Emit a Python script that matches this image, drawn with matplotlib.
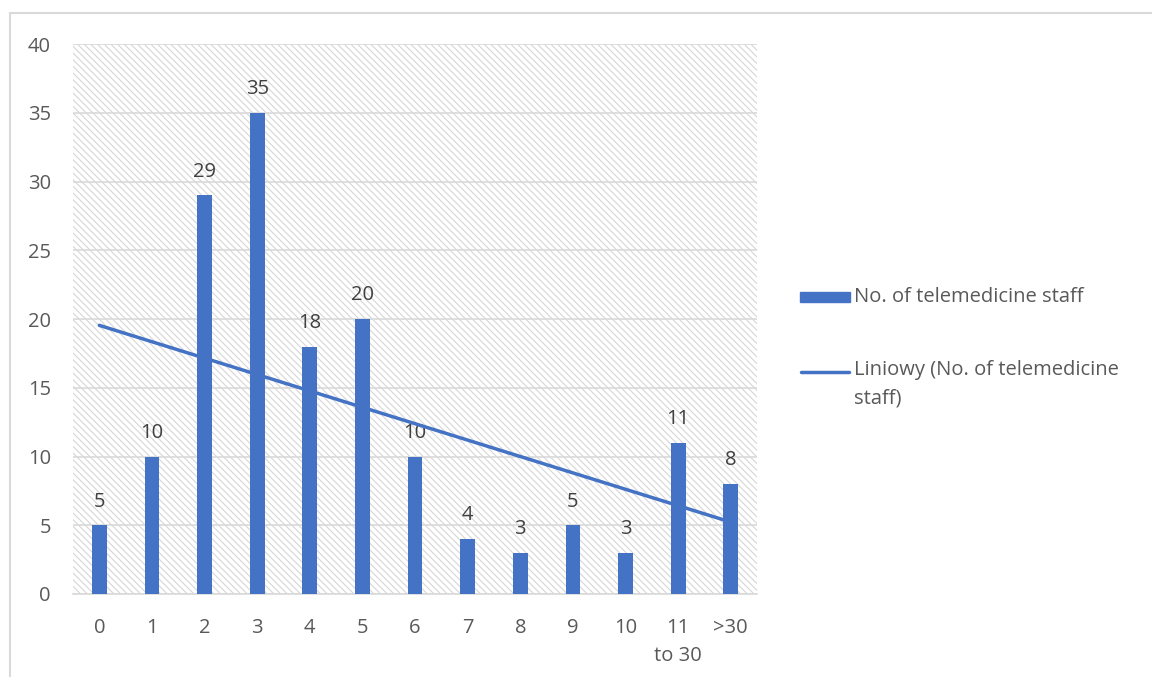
import numpy as np
import matplotlib
matplotlib.use("Agg")
import matplotlib.pyplot as plt
from matplotlib.patches import Rectangle
from matplotlib.lines import Line2D

categories = ["0", "1", "2", "3", "4", "5", "6", "7", "8", "9", "10", "11\nto 30", ">30"]
staff = [5, 10, 29, 35, 18, 20, 10, 4, 3, 5, 3, 11, 8]
legend_labels = ["No. of telemedicine staff", "Liniowy (No. of telemedicine\nstaff)"]

blue = "#4472c4"
grey_txt = "#595959"
grid_col = "#d9d9d9"
fs = 14.5

plt.rcParams["font.family"] = ["Open Sans", "DejaVu Sans"]
plt.rcParams["hatch.linewidth"] = 0.8

W, H = 1152, 677
fig = plt.figure(figsize=(W / 100, H / 100), dpi=100)
ax = fig.add_axes([0.0634, 0.1226, 0.5938, 0.8124])

# chart frame (cut off at right/bottom)
fig.patches.append(Rectangle((10 / W, -0.05), 1.1, 1 - 13 / H + 0.05,
                             transform=fig.transFigure, fill=False,
                             edgecolor=grid_col, lw=1.5, zorder=0))

# light diagonal hatching behind the plot area
ax.add_patch(Rectangle((0, 0), 1, 1, transform=ax.transAxes, facecolor="white",
                       edgecolor="#d6d6d6", hatch="\\\\\\\\\\", lw=0, zorder=0))

x = np.arange(len(categories))
ax.bar(x, staff, width=0.28, color=blue, zorder=3)

for xi, v in zip(x, staff):
    ax.text(xi, v + 1.0, str(v), ha="center", va="bottom",
            fontsize=fs, color="#404040", zorder=4)

# linear trend over the category index
k, b = np.polyfit(x + 1, staff, 1)
ax.plot(x, k * (x + 1) + b, color=blue, lw=2.5, zorder=4,
        solid_capstyle="round")

ax.set_xlim(-0.5, len(categories) - 0.5)
ax.set_ylim(0, 40)
ax.set_yticks(range(0, 41, 5))
ax.set_xticks(x)
ax.set_xticklabels(categories, linespacing=1.55)
ax.yaxis.grid(True, color=grid_col, lw=1.2, zorder=1)
ax.set_axisbelow(True)
ax.tick_params(length=0, labelsize=fs, labelcolor=grey_txt)
ax.tick_params(axis="x", pad=17)
ax.tick_params(axis="y", pad=16)
for side in ["top", "right", "left"]:
    ax.spines[side].set_visible(False)
ax.spines["bottom"].set_color(grid_col)
ax.spines["bottom"].set_linewidth(1.2)

# legend drawn by hand so the wrapped label hangs below its line key
def fx(px):
    return px / W

def fy(py):
    return 1 - py / H

fig.patches.append(Rectangle((fx(800), fy(302)), fx(850) - fx(800), 10 / H,
                             transform=fig.transFigure, color=blue))
fig.lines.append(Line2D([fx(801), fx(849)], [fy(372), fy(372)],
                        transform=fig.transFigure, color=blue, lw=2.5,
                        solid_capstyle="round"))
fig.text(fx(854), fy(297), legend_labels[0], ha="left", va="center",
         fontsize=fs, color=grey_txt)
fig.text(fx(854), fy(360), legend_labels[1], ha="left", va="top",
         fontsize=fs, color=grey_txt, linespacing=1.55)

fig.savefig("out.png", dpi=100)
